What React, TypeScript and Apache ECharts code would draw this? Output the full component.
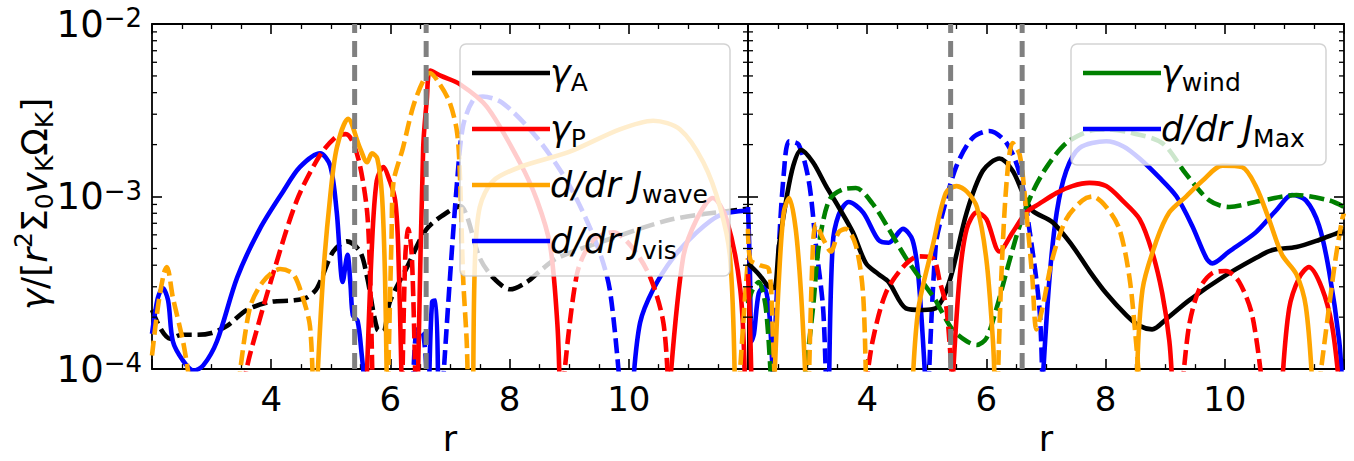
import React, { useEffect, useRef } from "react";
import * as echarts from "echarts";

type P = [number, number][];

const FONT = "DejaVu Sans";
const R_MIN = 2;
const R_MAX = 12;
const G_MIN = 1e-4;
const G_MAX = 1e-2;
const xTickLabels = [4, 6, 8, 10];
const yMinorMantissas = [2, 3, 4, 5, 6, 7, 8, 9];
const yMinorDecades = [1e-4, 1e-3];
const resonanceRadii = [5.4, 6.6];

const BLACK = "#000000";
const RED = "#ff0000";
const ORANGE = "#ffa500";
const BLUE = "#0000ff";
const GREEN = "#008000";
const GRAY = "#808080";

// ---------------- Left panel ----------------
const leftGammaA_neg: P = [
  [2.0, 2.2e-4], [2.15, 1.7e-4], [2.3, 1.5e-4], [2.5, 1.58e-4], [2.75, 1.58e-4], [3.0, 1.62e-4],
  [3.26, 1.78e-4], [3.59, 2.2e-4], [3.98, 2.45e-4], [4.37, 2.5e-4], [4.6, 2.6e-4], [4.77, 2.95e-4],
  [5.04, 4.8e-4], [5.27, 5.5e-4], [5.49, 4.8e-4], [5.61, 3.4e-4], [5.78, 1.7e-4], [5.88, 1.65e-4],
  [5.99, 2.45e-4], [6.28, 3.9e-4], [6.61, 6.5e-4], [7.0, 8.3e-4], [7.17, 8.8e-4], [7.5, 4.4e-4],
  [7.72, 3.4e-4], [8.01, 2.9e-4], [8.29, 3.2e-4], [8.51, 3.7e-4], [8.8, 4.4e-4], [9.63, 5.6e-4],
  [10.74, 7.4e-4], [12.0, 8.5e-4],
];
const leftGammaP_neg1: P = [
  [3.53, 8e-5], [3.64, 1.2e-4], [4.03, 3.55e-4], [4.43, 9.5e-4], [4.82, 1.74e-3], [5.1, 2.24e-3],
  [5.25, 2.3e-3], [5.36, 2.1e-3], [5.49, 1.51e-3], [5.61, 8.1e-4], [5.66, 3.4e-4], [5.7, 8e-5],
];
const leftGammaP_neg2: P = [[6.2, 8e-5], [6.25, 4.5e-4], [6.3, 6.5e-4], [6.36, 4.5e-4], [6.42, 8e-5]];
const leftGammaP_pos1: P = [
  [5.6, 8e-5], [5.69, 5.2e-4], [5.77, 1.23e-3], [5.88, 1.48e-3], [5.99, 1.23e-3], [6.08, 9.5e-4],
  [6.13, 5.2e-4], [6.19, 8e-5],
];
const leftGammaP_pos2: P = [
  [6.46, 8e-5], [6.55, 1.91e-3], [6.61, 3.6e-3], [6.67, 5.37e-3], [6.85, 5.0e-3], [7.17, 4.47e-3],
  [7.62, 3.31e-3], [8.17, 1.58e-3], [8.46, 9.5e-4], [8.68, 5.2e-4], [8.8, 1.86e-4], [8.84, 8e-5],
];
const leftGammaP_neg3: P = [
  [8.9, 8e-5], [9.13, 3.55e-4], [9.4, 5.6e-4], [9.74, 6.2e-4], [10.07, 5.0e-4], [10.36, 3.4e-4],
  [10.58, 1.86e-4], [10.66, 8e-5],
];
const leftGammaP_pos3: P = [
  [10.69, 8e-5], [10.91, 4.4e-4], [11.14, 7.4e-4], [11.41, 9.8e-4], [11.64, 7.4e-4], [11.87, 2.9e-4],
  [11.95, 8e-5],
];
const leftJwave_pos1: P = [
  [4.77, 8e-5], [4.87, 3.4e-4], [4.99, 1.0e-3], [5.1, 1.91e-3], [5.29, 2.82e-3], [5.49, 1.91e-3],
  [5.61, 1.58e-3], [5.69, 1.78e-3], [5.78, 1.66e-3], [5.86, 1.0e-3], [5.91, 3.4e-4], [5.94, 8e-5],
];
const leftJwave_pos2: P = [
  [7.39, 8e-5], [7.42, 4.4e-4], [7.5, 8.7e-4], [7.72, 1.23e-3], [8.17, 1.48e-3], [9.01, 1.82e-3],
  [9.85, 2.45e-3], [10.41, 2.75e-3], [10.86, 2.45e-3], [11.25, 1.58e-3], [11.53, 8.7e-4],
  [11.7, 4.4e-4], [11.78, 8e-5],
];
const leftJwave_neg1: P = [
  [2.0, 1.2e-4], [2.1, 2.3e-4], [2.2, 3.6e-4], [2.25, 3.9e-4], [2.35, 2.6e-4], [2.52, 1.45e-4],
  [2.62, 9e-5],
];
const leftJwave_neg2: P = [
  [3.45, 8e-5], [3.64, 2.25e-4], [3.86, 3.2e-4], [4.15, 3.8e-4], [4.37, 3.55e-4], [4.53, 2.6e-4],
  [4.65, 1.78e-4], [4.7, 8e-5],
];
const leftJwave_neg3: P = [
  [5.96, 8e-5], [6.02, 6e-4], [6.05, 1.2e-3], [6.21, 1.91e-3], [6.38, 3.31e-3], [6.55, 4.68e-3],
  [6.66, 5.2e-3], [6.83, 4.47e-3], [7.0, 3.47e-3], [7.12, 2.34e-3], [7.17, 1.23e-3], [7.22, 3.4e-4],
  [7.28, 1.45e-4], [7.3, 8e-5],
];
const leftJwave_neg4: P = [[11.85, 8e-5], [11.95, 2.6e-4], [12.0, 4.4e-4]];
const leftJvis_pos1: P = [
  [2.0, 1.6e-4], [2.03, 1.9e-4], [2.1, 2.6e-4], [2.18, 2.95e-4], [2.27, 2.5e-4], [2.35, 1.45e-4],
  [2.52, 1.12e-4], [2.7, 9.8e-5], [2.86, 1.05e-4], [3.09, 1.45e-4], [3.43, 3.4e-4], [3.81, 6.5e-4],
  [4.2, 1.07e-3], [4.48, 1.48e-3], [4.82, 1.78e-3], [4.99, 1.51e-3], [5.1, 8.1e-4], [5.2, 3.2e-4],
  [5.28, 4.6e-4], [5.33, 3.1e-4], [5.37, 2.05e-4], [5.45, 1.9e-4], [5.52, 1.2e-4], [5.57, 8e-5],
];
const leftJvis_pos2: P = [[6.65, 8e-5], [6.7, 2.45e-4], [6.76, 2.5e-4], [6.8, 8e-5]];
const leftJvis_neg1: P = [[6.38, 8e-5], [6.45, 1.7e-4], [6.55, 1.6e-4], [6.62, 8e-5]];
const leftJvis_neg2: P = [
  [6.88, 8e-5], [7.0, 3.4e-4], [7.12, 1.23e-3], [7.22, 2.57e-3], [7.39, 3.63e-3], [7.55, 3.8e-3],
  [7.89, 3.47e-3], [8.46, 2.19e-3], [9.01, 1.15e-3], [9.47, 5.2e-4], [9.68, 2.9e-4], [9.85, 8e-5],
];
const leftJvis_pos3: P = [
  [10.07, 8e-5], [10.19, 1.86e-4], [10.41, 2.9e-4], [10.74, 4.4e-4], [11.14, 6.2e-4], [11.53, 7.8e-4],
  [12.0, 8.3e-4],
];

// ---------------- Right panel ----------------
const rightGammaA_pos: P = [
  [2.0, 4.1e-4], [2.18, 3.55e-4], [2.35, 3.0e-4], [2.44, 2.95e-4], [2.52, 5.2e-4], [2.64, 9.5e-4],
  [2.76, 1.51e-3], [2.89, 1.86e-3], [3.09, 1.58e-3], [3.31, 1.15e-3], [3.52, 8.7e-4], [3.76, 6.2e-4],
  [3.98, 4.1e-4], [4.19, 3.55e-4], [4.36, 3.2e-4], [4.65, 2.25e-4], [4.93, 2.2e-4], [5.15, 2.25e-4],
  [5.3, 2.7e-4], [5.43, 3.7e-4], [5.67, 8.1e-4], [5.94, 1.41e-3], [6.22, 1.66e-3], [6.44, 1.41e-3],
  [6.61, 1.05e-3], [6.77, 8.3e-4], [7.11, 7.1e-4], [7.44, 5.2e-4], [7.73, 3.7e-4], [8.01, 2.75e-4],
  [8.35, 2.05e-4], [8.57, 1.78e-4], [8.78, 1.7e-4], [9.02, 1.95e-4], [9.4, 2.5e-4], [9.96, 3.4e-4],
  [10.52, 4.4e-4], [10.8, 4.9e-4], [11.2, 5.1e-4], [11.58, 5.6e-4], [11.92, 6.2e-4], [12.0, 6.3e-4],
];
const rightJmax_pos1: P = [
  [2.0, 8.7e-4], [2.03, 4e-4], [2.06, 1.45e-4], [2.1, 1.6e-4], [2.18, 2.75e-4], [2.27, 3.0e-4],
  [2.35, 2.25e-4], [2.4, 1.2e-4], [2.42, 8e-5],
];
const rightJmax_pos2: P = [
  [3.36, 8e-5], [3.42, 5.2e-4], [3.52, 7.8e-4], [3.69, 9.3e-4], [3.93, 8.1e-4], [4.19, 5.6e-4],
  [4.36, 5.4e-4], [4.6, 6.5e-4], [4.76, 5.6e-4], [4.86, 3.4e-4], [4.98, 8e-5],
];
const rightJmax_pos3: P = [
  [6.94, 8e-5], [7.06, 3.4e-4], [7.18, 8.1e-4], [7.34, 1.41e-3], [7.56, 1.91e-3], [8.01, 2.09e-3],
  [8.3, 1.95e-3], [8.57, 1.66e-3], [8.9, 1.29e-3], [9.19, 1.0e-3], [9.45, 6.8e-4], [9.69, 4.4e-4],
  [9.79, 4.1e-4], [10.07, 4.8e-4], [10.52, 6.2e-4], [10.86, 8.3e-4], [11.13, 1.02e-3], [11.36, 9.5e-4],
  [11.58, 6.8e-4], [11.75, 3.7e-4], [11.92, 1.45e-4], [11.97, 8e-5],
];
const rightJmax_neg1: P = [
  [2.42, 8e-5], [2.52, 5.2e-4], [2.6, 1.35e-3], [2.69, 2.09e-3], [2.85, 2.0e-3], [3.02, 1.23e-3],
  [3.14, 5.2e-4], [3.26, 2.25e-4], [3.31, 8e-5],
];
const rightJmax_neg2: P = [
  [5.03, 8e-5], [5.15, 5.2e-4], [5.27, 8.1e-4], [5.5, 1.51e-3], [5.77, 2.19e-3], [6.05, 2.4e-3],
  [6.34, 2.04e-3], [6.56, 1.35e-3], [6.72, 6.5e-4], [6.89, 2.25e-4], [6.94, 8e-5],
];
const rightGammaWind_neg1: P = [
  [2.0, 2.4e-4], [2.08, 2.9e-4], [2.18, 3.2e-4], [2.3, 2.25e-4], [2.39, 8e-5],
];
const rightGammaWind_neg2: P = [
  [2.94, 8e-5], [3.09, 2.25e-4], [3.19, 5.2e-4], [3.36, 9.5e-4], [3.59, 1.1e-3], [3.81, 1.12e-3],
  [4.09, 9.1e-4], [4.36, 6.5e-4], [4.65, 4.4e-4], [4.93, 3.2e-4], [5.15, 2.5e-4], [5.22, 2.25e-4],
  [5.43, 1.7e-4], [5.67, 1.45e-4], [5.84, 1.38e-4], [6.0, 1.51e-4], [6.17, 2.25e-4], [6.34, 3.7e-4],
  [6.56, 6.8e-4], [6.77, 1.05e-3], [7.01, 1.48e-3], [7.34, 2.04e-3], [7.73, 2.4e-3], [8.01, 2.45e-3],
  [8.4, 2.35e-3], [8.95, 2.04e-3], [9.35, 1.35e-3], [9.74, 9.5e-4], [10.07, 8.7e-4], [10.63, 9.5e-4],
  [11.2, 1.02e-3], [11.75, 9.5e-4], [12.0, 8.7e-4],
];
const rightGammaP_pos1: P = [[2.0, 3.55e-4], [2.03, 2e-4], [2.06, 8e-5]];
const rightGammaP_neg1: P = [
  [3.98, 8e-5], [4.09, 1.45e-4], [4.31, 2.75e-4], [4.6, 3.9e-4], [4.86, 4.5e-4], [5.1, 4.4e-4],
  [5.22, 3.2e-4], [5.33, 2.25e-4], [5.43, 8e-5],
];
const rightGammaP_pos2: P = [
  [5.43, 8e-5], [5.55, 3.4e-4], [5.67, 6.5e-4], [5.84, 8.1e-4], [6.0, 7.4e-4], [6.22, 4.8e-4],
  [6.44, 6.2e-4], [6.67, 8.1e-4], [6.89, 9.1e-4], [7.18, 1.05e-3], [7.44, 1.15e-3], [7.73, 1.2e-3],
  [8.01, 1.15e-3], [8.28, 9.5e-4], [8.57, 7.4e-4], [8.78, 4.8e-4], [8.95, 2.75e-4], [9.07, 1.45e-4],
  [9.12, 8e-5],
];
const rightGammaP_neg2: P = [
  [9.29, 8e-5], [9.4, 1.78e-4], [9.57, 2.9e-4], [9.79, 3.6e-4], [10.02, 3.7e-4], [10.24, 3.2e-4],
  [10.46, 2.05e-4], [10.63, 8e-5],
];
const rightGammaP_pos3: P = [
  [10.96, 8e-5], [11.08, 2.25e-4], [11.25, 3.4e-4], [11.41, 3.9e-4], [11.63, 2.95e-4], [11.8, 1.78e-4],
  [11.92, 8e-5],
];
const rightJwave_neg1: P = [
  [2.0, 6.5e-4], [2.04, 4.3e-4], [2.2, 4.0e-4], [2.35, 3.8e-4], [2.42, 1.5e-4], [2.45, 8e-5],
];
const rightJwave_pos1: P = [
  [2.44, 8e-5], [2.52, 3.4e-4], [2.6, 8.1e-4], [2.69, 9.8e-4], [2.8, 6.5e-4], [2.89, 2.75e-4],
  [2.97, 8e-5],
];
const rightJwave_neg2: P = [
  [3.02, 8e-5], [3.09, 5.2e-4], [3.14, 6.9e-4], [3.27, 5.6e-4], [3.39, 4.8e-4], [3.52, 6.2e-4],
  [3.64, 6.5e-4], [3.81, 5.2e-4], [3.93, 2.75e-4], [3.98, 8e-5],
];
const rightJwave_pos2: P = [
  [4.76, 8e-5], [4.86, 2.25e-4], [5.1, 5.2e-4], [5.32, 1.05e-3], [5.5, 1.15e-3], [5.67, 1.07e-3],
  [5.84, 8.7e-4], [6.0, 4.3e-4], [6.11, 1.45e-4], [6.14, 8e-5],
];
const rightJwave_neg3: P = [
  [6.19, 8e-5], [6.25, 3.4e-4], [6.34, 1.23e-3], [6.44, 2.04e-3], [6.56, 1.74e-3], [6.67, 8.1e-4],
  [6.77, 3.4e-4], [6.84, 1.7e-4], [6.94, 2.25e-4], [7.11, 4.4e-4], [7.34, 7.4e-4], [7.61, 9.5e-4],
  [7.78, 1.0e-3], [8.01, 8.7e-4], [8.23, 6.5e-4], [8.4, 3.4e-4], [8.51, 1.45e-4], [8.57, 8e-5],
];
const rightJwave_pos3: P = [
  [8.52, 8e-5], [8.62, 2.9e-4], [8.85, 5.5e-4], [9.07, 8.1e-4], [9.35, 1.0e-3], [9.62, 1.23e-3],
  [9.96, 1.51e-3], [10.29, 1.48e-3], [10.52, 1.15e-3], [10.74, 7.4e-4], [10.96, 4.6e-4],
  [11.2, 3.55e-4], [11.36, 2.3e-4], [11.47, 8e-5],
];
const rightJwave_neg4: P = [[11.58, 8e-5], [11.75, 2.3e-4], [11.86, 4.4e-4], [11.97, 7.4e-4], [12.0, 8e-4]];

// legend texts
const leftLegendLabels = ["{g|γ}{s|A}", "{g|γ}{s|P}", "{g|d/dr J}{s|wave}", "{g|d/dr J}{s|vis}"];
const leftLegendColors = [BLACK, RED, ORANGE, BLUE];
const rightLegendLabels = ["{g|γ}{s|wind}", "{g|d/dr J}{s|Max}"];
const rightLegendColors = [GREEN, BLUE];
const yAxisTitle = "{i|γ}{n|/[}{i|r}{sup|2}{n|Σ}{sub|0}{i|v}{sub|K}{n|Ω}{sub|K}{n|]}";

type Curve = { data: P; color: string; dashed: boolean };

const leftCurves: Curve[] = [
  { data: leftGammaA_neg, color: BLACK, dashed: true },
  { data: leftJvis_pos1, color: BLUE, dashed: false },
  { data: leftJvis_pos2, color: BLUE, dashed: false },
  { data: leftJvis_neg1, color: BLUE, dashed: true },
  { data: leftJvis_neg2, color: BLUE, dashed: true },
  { data: leftJvis_pos3, color: BLUE, dashed: false },
  { data: leftGammaP_neg1, color: RED, dashed: true },
  { data: leftGammaP_neg2, color: RED, dashed: true },
  { data: leftGammaP_pos1, color: RED, dashed: false },
  { data: leftGammaP_pos2, color: RED, dashed: false },
  { data: leftGammaP_neg3, color: RED, dashed: true },
  { data: leftGammaP_pos3, color: RED, dashed: false },
  { data: leftJwave_neg1, color: ORANGE, dashed: true },
  { data: leftJwave_neg2, color: ORANGE, dashed: true },
  { data: leftJwave_pos1, color: ORANGE, dashed: false },
  { data: leftJwave_neg3, color: ORANGE, dashed: true },
  { data: leftJwave_pos2, color: ORANGE, dashed: false },
  { data: leftJwave_neg4, color: ORANGE, dashed: true },
];

const rightCurves: Curve[] = [
  { data: rightJmax_pos1, color: BLUE, dashed: false },
  { data: rightJmax_neg1, color: BLUE, dashed: true },
  { data: rightJmax_pos2, color: BLUE, dashed: false },
  { data: rightJmax_neg2, color: BLUE, dashed: true },
  { data: rightJmax_pos3, color: BLUE, dashed: false },
  { data: rightGammaA_pos, color: BLACK, dashed: false },
  { data: rightGammaWind_neg1, color: GREEN, dashed: true },
  { data: rightGammaWind_neg2, color: GREEN, dashed: true },
  { data: rightGammaP_pos1, color: RED, dashed: false },
  { data: rightGammaP_neg1, color: RED, dashed: true },
  { data: rightGammaP_pos2, color: RED, dashed: false },
  { data: rightGammaP_neg2, color: RED, dashed: true },
  { data: rightGammaP_pos3, color: RED, dashed: false },
  { data: rightJwave_neg1, color: ORANGE, dashed: true },
  { data: rightJwave_pos1, color: ORANGE, dashed: false },
  { data: rightJwave_neg2, color: ORANGE, dashed: true },
  { data: rightJwave_pos2, color: ORANGE, dashed: false },
  { data: rightJwave_neg3, color: ORANGE, dashed: true },
  { data: rightJwave_pos3, color: ORANGE, dashed: false },
  { data: rightJwave_neg4, color: ORANGE, dashed: true },
];

export default function App() {
  const ref = useRef<HTMLDivElement>(null);

  useEffect(() => {
    const el = ref.current;
    if (!el) return;
    const chart = echarts.init(el, null, { renderer: "svg" });

    const axisLine = { show: true, onZero: false, lineStyle: { color: "#000", width: 1.8 } };
    const majorTick = { show: true, inside: true, length: 10, lineStyle: { color: "#000", width: 1.6 } };
    const minorTickX = { show: true, splitNumber: 4, length: 5, lineStyle: { color: "#000", width: 1.3 } };

    const grids = [
      { left: 152, top: 24, width: 596, height: 358 },
      { left: 748, top: 24, width: 596, height: 358 },
    ];

    const xAxes: any[] = [];
    const yAxes: any[] = [];
    grids.forEach((_, i) => {
      xAxes.push({
        type: "value", gridIndex: i, position: "bottom", min: R_MIN, max: R_MAX, interval: 2,
        axisLine, axisTick: majorTick, minorTick: minorTickX,
        splitLine: { show: false }, minorSplitLine: { show: false },
        axisLabel: {
          show: true, margin: 13, fontSize: 34, color: "#000", fontFamily: FONT,
          formatter: (v: number) => (xTickLabels.indexOf(v) >= 0 ? String(v) : ""),
        },
        name: "r", nameLocation: "middle", nameGap: 45,
        nameTextStyle: { fontSize: 35, color: "#000", fontFamily: FONT },
      });
      xAxes.push({
        type: "value", gridIndex: i, position: "top", min: R_MIN, max: R_MAX, interval: 2,
        axisLine, axisTick: majorTick, minorTick: minorTickX,
        splitLine: { show: false }, minorSplitLine: { show: false },
        axisLabel: { show: false },
      });
      yAxes.push({
        type: "log", logBase: 10, gridIndex: i, position: "left", min: G_MIN, max: G_MAX,
        axisLine, axisTick: majorTick, splitLine: { show: false },
        axisLabel: i === 0
          ? {
              show: true, margin: 10, color: "#000", fontFamily: FONT,
              formatter: (v: number) => `{a|10}{b|−${Math.round(-Math.log10(v))}}`,
              rich: {
                a: { fontSize: 37, fontFamily: FONT, color: "#000", lineHeight: 38 },
                b: { fontSize: 26, fontFamily: FONT, color: "#000", lineHeight: 30, verticalAlign: "top" },
              },
            }
          : { show: false },
      });
      yAxes.push({
        type: "log", logBase: 10, gridIndex: i, position: "right", min: G_MIN, max: G_MAX,
        axisLine, axisTick: majorTick, splitLine: { show: false }, axisLabel: { show: false },
      });
    });

    const lineSeries = (c: Curve, axis: number) => ({
      type: "line", xAxisIndex: axis, yAxisIndex: axis, data: c.data,
      symbol: "none", showSymbol: false, smooth: 0.3, silent: true, clip: true,
      lineStyle: { color: c.color, width: 4.6, type: c.dashed ? [15, 6] : "solid", cap: "butt", join: "round" },
      z: 3,
    });

    const series: any[] = [];
    leftCurves.forEach((c) => series.push(lineSeries(c, 0)));
    rightCurves.forEach((c) => series.push(lineSeries(c, 2)));
    [0, 2].forEach((axis) => {
      resonanceRadii.forEach((r) => {
        series.push({
          type: "line", xAxisIndex: axis, yAxisIndex: axis,
          data: [[r, G_MIN], [r, G_MAX]], symbol: "none", showSymbol: false, silent: true,
          lineStyle: { color: GRAY, width: 5, type: [16, 8], cap: "butt" }, z: 6,
        });
      });
    });

    chart.setOption({
      animation: false,
      textStyle: { fontFamily: FONT },
      grid: grids,
      xAxis: xAxes,
      yAxis: yAxes,
      series,
    });

    // graphics: minor log ticks, legends, y-axis title
    const g: any[] = [];
    [0, 1].forEach((gi) => {
      const xl = chart.convertToPixel({ xAxisIndex: 2 * gi }, R_MIN) as number;
      const xr = chart.convertToPixel({ xAxisIndex: 2 * gi }, R_MAX) as number;
      yMinorDecades.forEach((d) => {
        yMinorMantissas.forEach((m) => {
          const y = chart.convertToPixel({ yAxisIndex: 2 * gi }, m * d) as number;
          g.push({ type: "line", silent: true, z: 50, shape: { x1: xl, y1: y, x2: xl + 5, y2: y }, style: { stroke: "#000", lineWidth: 1.3 } });
          g.push({ type: "line", silent: true, z: 50, shape: { x1: xr, y1: y, x2: xr - 5, y2: y }, style: { stroke: "#000", lineWidth: 1.3 } });
        });
      });
    });

    const legendRich = {
      g: { fontSize: 35, fontStyle: "italic", fontFamily: FONT, fill: "#000", lineHeight: 44 },
      s: { fontSize: 25, fontFamily: FONT, fill: "#000", lineHeight: 28, verticalAlign: "bottom" },
    };
    const makeLegend = (bx: number, by: number, bw: number, bh: number, labels: string[], colors: string[]) => {
      g.push({
        type: "rect", silent: true, z: 100,
        shape: { x: bx, y: by, width: bw, height: bh, r: 6 },
        style: { fill: "rgba(255,255,255,0.8)", stroke: "rgba(200,200,200,0.8)", lineWidth: 1.5 },
      });
      labels.forEach((lab, k) => {
        const y = by + 29 + k * 56;
        g.push({
          type: "line", silent: true, z: 101,
          shape: { x1: bx + 12, y1: y, x2: bx + 90, y2: y },
          style: { stroke: colors[k], lineWidth: 4.6 },
        });
        g.push({
          type: "text", silent: true, z: 101, x: bx + 90, y,
          style: { text: lab, rich: legendRich, align: "left", verticalAlign: "middle", fill: "#000", fontFamily: FONT, fontSize: 35 },
        });
      });
    };
    makeLegend(460, 44, 270, 232, leftLegendLabels, leftLegendColors);
    makeLegend(1071, 44, 255, 121, rightLegendLabels, rightLegendColors);

    g.push({
      type: "text", silent: true, z: 101, x: 34, y: 204, rotation: Math.PI / 2,
      style: {
        text: yAxisTitle, align: "center", verticalAlign: "middle", fill: "#000", fontFamily: FONT, fontSize: 36,
        rich: {
          i: { fontSize: 36, fontStyle: "italic", fontFamily: FONT, fill: "#000", lineHeight: 46 },
          n: { fontSize: 36, fontFamily: FONT, fill: "#000", lineHeight: 46 },
          sup: { fontSize: 25, fontFamily: FONT, fill: "#000", lineHeight: 30, verticalAlign: "top" },
          sub: { fontSize: 25, fontFamily: FONT, fill: "#000", lineHeight: 28, verticalAlign: "bottom" },
        },
      },
    });

    chart.setOption({ graphic: { elements: g } });

    return () => chart.dispose();
  }, []);

  return (
    <div
      ref={ref}
      style={{ position: "fixed", left: 0, top: 0, width: 1354, height: 461, background: "#fff" }}
    />
  );
}
